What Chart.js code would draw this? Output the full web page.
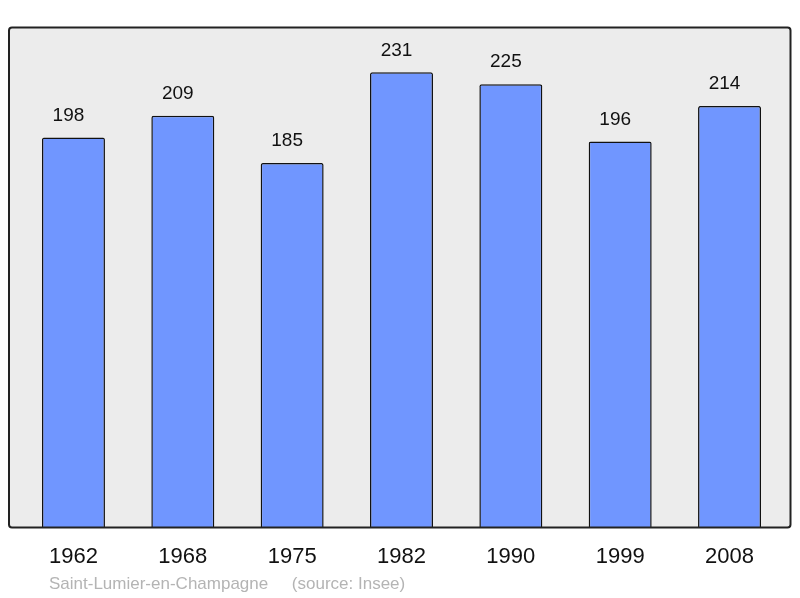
<!DOCTYPE html>
<html>
<head>
<meta charset="utf-8">
<title>Saint-Lumier-en-Champagne population</title>
<script src="https://cdn.jsdelivr.net/npm/chart.js@4/dist/chart.umd.min.js"></script>
<style>
  html, body { margin: 0; padding: 0; background: #fff; }
  canvas { display: block; }
</style>
</head>
<body>
<canvas id="chart" width="800" height="598"></canvas>
<script>
// census years and population
const years = ["1962", "1968", "1975", "1982", "1990", "1999", "2008"];
const population = [198, 209, 185, 231, 225, 196, 214];
const sourceText = "Saint-Lumier-en-Champagne     (source: Insee)";

const FONT = "'Liberation Sans', Arial, sans-serif";

// grey frame behind the bars, outline drawn on top
const framePlugin = {
  id: "frame",
  beforeDatasetsDraw(chart) {
    const { ctx } = chart;
    ctx.save();
    ctx.beginPath();
    ctx.roundRect(9, 27.5, 781.5, 500, 3);
    ctx.fillStyle = "#ececec";
    ctx.fill();
    ctx.restore();
  },
  afterDatasetsDraw(chart) {
    const { ctx } = chart;
    ctx.save();
    ctx.beginPath();
    ctx.roundRect(9, 27.5, 781.5, 500, 3);
    ctx.lineWidth = 2;
    ctx.strokeStyle = "#222";
    ctx.stroke();

    // value labels above bars (sit a little left of centre in the original)
    const meta = chart.getDatasetMeta(0);
    ctx.fillStyle = "#111";
    ctx.font = "19px " + FONT;
    ctx.textAlign = "center";
    ctx.textBaseline = "middle";
    meta.data.forEach((bar, i) => {
      ctx.fillText(String(population[i]), bar.x - 5, bar.y - 22);
    });

    // source line
    ctx.fillStyle = "#b4b4b4";
    ctx.font = "17px " + FONT;
    ctx.textAlign = "left";
    ctx.fillText(sourceText, 49, 584);
    ctx.restore();
  },
};

new Chart(document.getElementById("chart"), {
  type: "bar",
  data: {
    labels: years,
    datasets: [{
      data: population,
      backgroundColor: "#7096ff",
      borderColor: "#111",
      borderWidth: 1.5,
      borderRadius: 2,
      borderSkipped: "bottom",
      barPercentage: 0.576,
      categoryPercentage: 1,
    }],
  },
  options: {
    responsive: false,
    animation: false,
    layout: { padding: { left: 18.8, right: 15.8, top: 27, bottom: 11.6 } },
    scales: {
      x: {
        grid: { display: false, drawTicks: false },
        border: { display: false },
        ticks: { color: "#111", font: { family: FONT, size: 22 }, padding: 16 },
      },
      y: { display: false, min: 0, max: 254 },
    },
    plugins: {
      legend: { display: false },
      tooltip: { enabled: false },
    },
  },
  plugins: [framePlugin],
});
</script>
</body>
</html>
